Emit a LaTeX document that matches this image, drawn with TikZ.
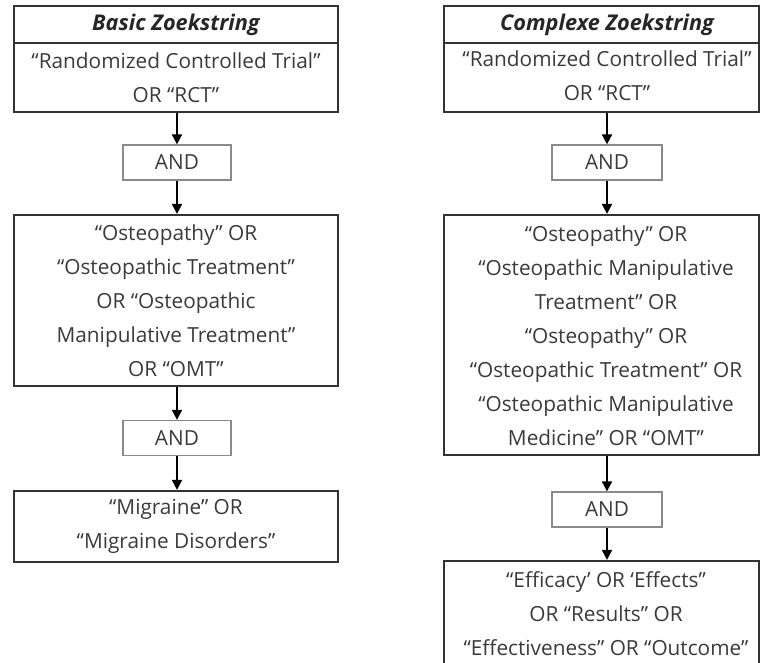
\documentclass[tikz,border=0pt]{standalone}
\usepackage{fontspec}
\setmainfont{Open Sans}
\usetikzlibrary{arrows.meta}
\definecolor{txtgray}{HTML}{3A3A3A}
\definecolor{boxline}{HTML}{333333}
\definecolor{andline}{HTML}{8A8A8A}
\begin{document}
\begin{tikzpicture}[x=1pt,y=-1pt,
  every node/.style={font=\fontsize{20.8}{34}\selectfont, text=txtgray, align=center, inner sep=0pt},
  titlefont/.style={font=\fontsize{21.7}{34}\selectfont\bfseries\itshape, text=black!85},
  titlebox/.style={draw=boxline, line width=2.2pt, titlefont},
  mainbox/.style={draw=boxline, line width=2.2pt},
  andbox/.style={draw=andline, line width=1.3pt, minimum width=108, minimum height=35},
  arr/.style={line width=2pt, -{Triangle[length=10pt,width=10pt]}, black}
]
\useasboundingbox (0,0) rectangle (760,663);
\clip (0,0) rectangle (760,663);
% ---- left column ----
\node[titlebox, minimum width=324, minimum height=37] (lt) at (176,24.5) {Basic Zoekstring};
\node[mainbox, minimum width=324, minimum height=69] (l1) at (176,77.5) {“Randomized Controlled Trial”\\OR “RCT”};
\node[andbox] (la1) at (177,162.5) {AND};
\node[mainbox, minimum width=324, minimum height=171] (l2) at (176,300.5) {“Osteopathy” OR\\“Osteopathic Treatment”\\OR “Osteopathic\\Manipulative Treatment”\\OR “OMT”};
\node[andbox] (la2) at (177,438) {AND};
\node[mainbox, minimum width=324, minimum height=71] (l3) at (176,526.5) {“Migraine” OR\\“Migraine Disorders”};
\draw[arr] (la1 |- l1.south) -- (la1.north);
\draw[arr] (la1.south) -- (la1 |- l2.north);
\draw[arr] (la2 |- l2.south) -- (la2.north);
\draw[arr] (la2.south) -- (la2 |- l3.north);
% ---- right column ----
\node[titlebox, minimum width=315, minimum height=37] (rt) at (601.5,24.5) {};
\node[mainbox, minimum width=315, minimum height=69] (r1) at (601.5,77.5) {};
\node[andbox, minimum width=110] (ra1) at (607,162.5) {AND};
\node[mainbox, minimum width=315, minimum height=240] (r2) at (601.5,335) {};
\node[andbox, minimum width=110] (ra2) at (607,509.5) {AND};
\node[mainbox, minimum width=315, minimum height=140] (r3) at (601.5,631) {};
\node[titlefont] (rtt) at (ra1 |- rt.center) {Complexe Zoekstring};
\node (r1t) at ([yshift=2]ra1 |- r1.center) {“Randomized Controlled Trial”\\OR “RCT”};
\node (r2t) at (606,336) {“Osteopathy” OR\\“Osteopathic Manipulative\\Treatment” OR\\“Osteopathy” OR\\“Osteopathic Treatment” OR\\“Osteopathic Manipulative\\Medicine” OR “OMT”};
\node (r3t) at (606,614) {“Efficacy’ OR ‘Effects”\\OR “Results” OR\\“Effectiveness” OR “Outcome”};
\draw[arr] (ra1 |- r1.south) -- (ra1.north);
\draw[arr] (ra1.south) -- (ra1 |- r2.north);
\draw[arr] (ra2 |- r2.south) -- (ra2.north);
\draw[arr] (ra2.south) -- (ra2 |- r3.north);
\end{tikzpicture}
\end{document}
